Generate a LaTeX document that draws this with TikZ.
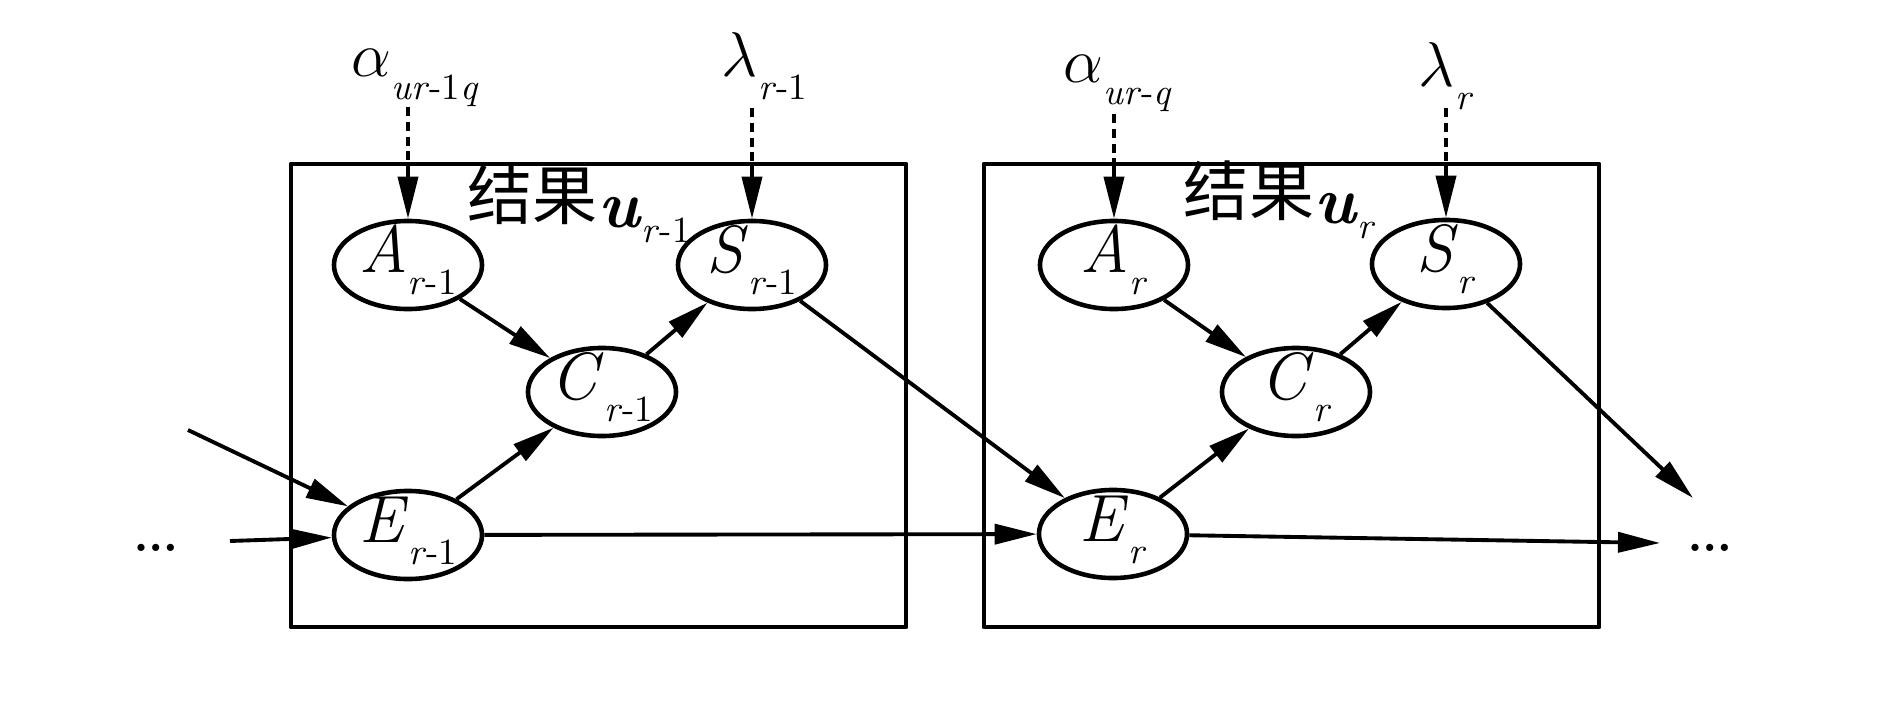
\RequirePackage{fix-cm}
\documentclass[tikz,border=0pt]{standalone}
\usepackage{fontspec}
\newfontfamily\cjk{Noto Sans CJK SC}
\usetikzlibrary{shapes.geometric,arrows.meta}
\newcommand{\lsub}[2]{#1\raisebox{-6.5pt}{\fontsize{10.5}{10.5}\selectfont #2}}
\newcommand{\ri}{\textit{r}}
\newcommand{\result}[1]{\raisebox{2pt}{\cjk\fontsize{18.5}{18.5}\selectfont 结果}{\fontsize{19}{19}\selectfont\textbf{\textit{u}}}\raisebox{-4.5pt}{\fontsize{10.5}{10.5}\selectfont #1}}

\begin{document}
\begin{tikzpicture}[x=0.01cm, y=-0.01cm, >={Triangle[length=0.42cm,width=0.2cm]}, line width=1.1pt, line join=round,
	var/.style={draw, ellipse, line width=1.3pt, minimum width=1.48cm, minimum height=0.88cm, inner sep=0pt, text height=0.37cm, text depth=0.23cm, font=\fontsize{19}{19}\selectfont},
	frame/.style={draw, rectangle, line width=1.25pt, minimum width=6.15cm, minimum height=4.63cm, inner sep=0pt},
	param/.style={anchor=base west, inner sep=0pt, font=\fontsize{18}{18}\selectfont},
	ttl/.style={anchor=base west, inner sep=0pt},
	dots/.style={inner sep=0pt, font=\fontsize{25}{25}\selectfont}]
	\useasboundingbox (0,0) rectangle (1890,709);
	% the two result frames
	\node[frame] (U1) at (598.5,395.5) {};
	\node[frame] (U2) at (1291.5,395.5) {};
	\node[ttl] (T1) at (466,227) {\result{\ri-1}};
	\node[ttl] (T2) at (1182,223) {\result{\ri}};
	% variables
	\node[var] (A1) at (408,265) {\lsub{\textit{A}}{\ri-1}};
	\node[var] (S1) at (752,265) {\lsub{\textit{S}}{\ri-1}};
	\node[var] (C1) at (602,392) {\lsub{\textit{C}}{\ri-1}};
	\node[var] (E1) at (408,535) {\lsub{\textit{E}}{\ri-1}};
	\node[var] (A2) at (1114,265) {\lsub{\textit{A}}{\ri}};
	\node[var] (S2) at (1446,264) {\lsub{\textit{S}}{\ri}};
	\node[var] (C2) at (1296,392) {\lsub{\textit{C}}{\ri}};
	\node[var] (E2) at (1113,534) {\lsub{\textit{E}}{\ri}};
	% parameters
	\node[param] (a1) at (350,77) {\lsub{$\alpha$}{\textit{ur}-1\textit{q}}};
	\node[param] (l1) at (720,77) {\lsub{$\lambda$}{\ri-1}};
	\node[param] (a2) at (1062,82) {\lsub{$\alpha$}{\textit{ur}-\textit{q}}};
	\node[param] (l2) at (1417,87) {\lsub{$\lambda$}{\ri}};
	\coordinate (pa1) at (408,107);
	\coordinate (pl1) at (752,108);
	\coordinate (pa2) at (1114,114);
	\coordinate (pl2) at (1446,108);
	\foreach \p/\n/\u in {pa1/A1/U1, pl1/S1/U1, pa2/A2/U2, pl2/S2/U2}{
		\draw[dash pattern=on 2.6pt off 1.6pt] (\p) -- (\p |- \u.north);
		\draw[->] (\p |- \u.north) -- (\n);
	}
	% ends
	\node[dots] (dl) at (156,548) {\dots};
	\node[dots] (dr) at (1710,548) {\dots};
	\coordinate (inh) at (230,541);
	\coordinate (ind) at (188,430);
	\coordinate (outh) at (1660,543);
	\coordinate (outd) at (1693,498);
	\foreach \a/\b in {A1/C1, C1/S1, E1/C1, A2/C2, C2/S2, E2/C2, S1/E2, E1/E2, inh/E1, ind/E1, E2/outh, S2/outd}
		\draw[->] (\a) -- (\b);
\end{tikzpicture}
\end{document}
